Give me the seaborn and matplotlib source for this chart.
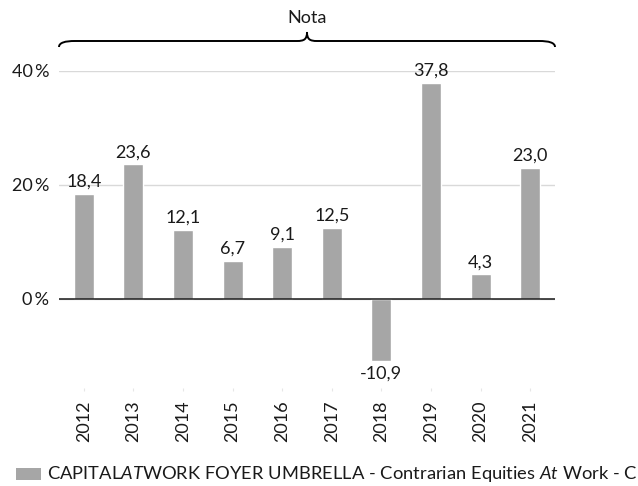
import matplotlib
matplotlib.use("Agg")
import matplotlib.pyplot as plt
from matplotlib.path import Path
from matplotlib.patches import PathPatch, Rectangle
import seaborn as sns
import pandas as pd

years = ["2012", "2013", "2014", "2015", "2016", "2017", "2018", "2019", "2020", "2021"]
values = [18.4, 23.6, 12.1, 6.7, 9.1, 12.5, -10.9, 37.8, 4.3, 23.0]
yticks = [0, 20, 40]
series_label = "CAPITAL$\\it{AT}$WORK FOYER UMBRELLA - Contrarian Equities $\\it{At}$ Work - C"
brace_label = "Nota"

sns.set_theme(style="white")
plt.rcParams["font.family"] = ["Lato", "DejaVu Sans"]
plt.rcParams["mathtext.fontset"] = "custom"
plt.rcParams["mathtext.rm"] = "Lato"
plt.rcParams["mathtext.it"] = "Lato:italic"

FS = 13
TXT = "#1a1a1a"
W, H = 638, 486

df = pd.DataFrame({"year": years, "value": values})

fig = plt.figure(figsize=(W / 100, H / 100), dpi=100)
ax_l, ax_r, ax_t, ax_b = 59, 555, 70.7, 388
ax = fig.add_axes([ax_l / W, 1 - ax_b / H, (ax_r - ax_l) / W, (ax_b - ax_t) / H])

bar_color = "#a6a6a6"
sns.barplot(data=df, x="year", y="value", color=bar_color, width=0.4, ax=ax,
            saturation=1, zorder=3)

ax.set_xlim(-0.5, 9.5)
ax.set_ylim(-15.6, 40)
ax.set_yticks(yticks)
ax.set_yticklabels([f"{t}\u2009%" for t in yticks], fontsize=FS, color=TXT)
ax.yaxis.grid(True, color="#d9d9d9", linewidth=1, zorder=0)
ax.axhline(0, color="#1a1a1a", linewidth=1.1, zorder=4)
for s in ax.spines.values():
    s.set_visible(False)
ax.tick_params(axis="y", length=0, pad=7)
ax.tick_params(axis="x", length=2, width=0.8, color="#e6e6e6", pad=7, bottom=True)
ax.set_xticks(range(len(years)))
ax.set_xticklabels(years, rotation=90, fontsize=FS, color=TXT)
ax.set_xlabel("")
ax.set_ylabel("")

for i, v in enumerate(values):
    txt = f"{v:.1f}".replace(".", ",")
    if v >= 0:
        ax.annotate(txt, (i, v), xytext=(0, 3), textcoords="offset points",
                    ha="center", va="bottom", fontsize=FS, color=TXT)
    else:
        ax.annotate(txt, (i, v), xytext=(0, -3), textcoords="offset points",
                    ha="center", va="top", fontsize=FS, color=TXT)

# brace above plot
ah = ax_b - ax_t
y0 = (ax_b - 47) / ah
y1 = (ax_b - 41) / ah
y2 = (ax_b - 32) / ah
r = 0.032
m = 0.02
verts = [
    (0.0, y0), (0.0, y1 - 0.005), (r * 0.4, y1), (r, y1),
    (0.5 - m, y1),
    (0.5 - m * 0.3, y1), (0.5, y1 + 0.005), (0.5, y2),
    (0.5, y1 + 0.005), (0.5 + m * 0.3, y1), (0.5 + m, y1),
    (1 - r, y1),
    (1 - r * 0.4, y1), (1.0, y1 - 0.005), (1.0, y0),
]
codes = [Path.MOVETO, Path.CURVE4, Path.CURVE4, Path.CURVE4,
         Path.LINETO,
         Path.CURVE4, Path.CURVE4, Path.CURVE4,
         Path.CURVE4, Path.CURVE4, Path.CURVE4,
         Path.LINETO,
         Path.CURVE4, Path.CURVE4, Path.CURVE4]
brace = PathPatch(Path(verts, codes), transform=ax.transAxes, fill=False,
                  edgecolor="#000000", linewidth=1.4, clip_on=False)
ax.add_patch(brace)
ax.text(0.5, (ax_b - 18.5) / ah, brace_label, transform=ax.transAxes,
        ha="center", va="center", fontsize=FS, color=TXT)

# legend (manual, below the axis)
leg_y = 474
fig.patches.append(Rectangle((16 / W, 1 - 480 / H), 25 / W, 12 / H,
                             transform=fig.transFigure, facecolor=bar_color,
                             edgecolor="none"))
t = fig.text(47 / W, 1 - leg_y / H, series_label, ha="left", va="center",
             fontsize=FS, color=TXT)
fig.canvas.draw()
w = t.get_window_extent().width
t.set_fontsize(FS * 589 / w)

fig.savefig("out.png", dpi=100)
